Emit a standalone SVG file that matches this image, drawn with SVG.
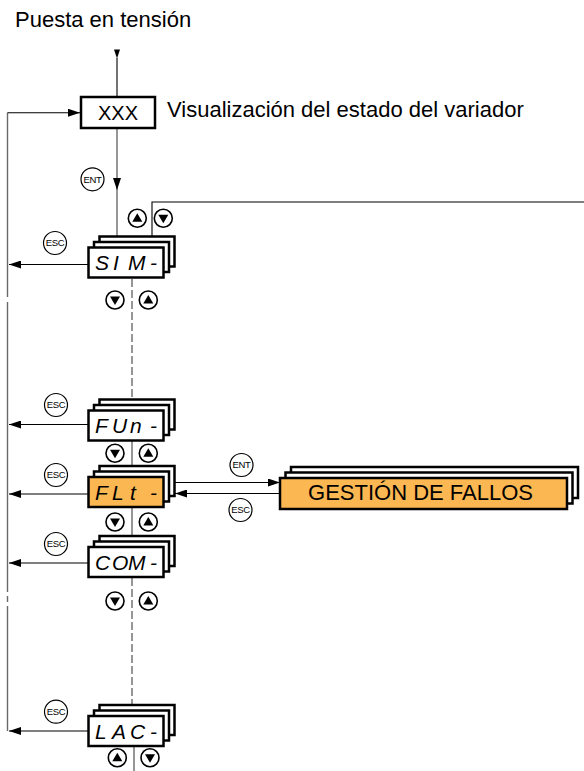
<svg xmlns="http://www.w3.org/2000/svg" width="584" height="771" viewBox="0 0 584 771">
<style>
.t{font-family:"Liberation Sans",Arial,sans-serif;fill:#000}
.lbl{font-size:22px}
.seg{font-family:"Liberation Sans",Arial,sans-serif;font-size:21px;font-style:italic;fill:#000}
.key{font-family:"Liberation Sans",Arial,sans-serif;font-size:9.5px;text-anchor:middle;fill:#000;letter-spacing:-0.3px}
.box{fill:#fff;stroke:#000;stroke-width:2.5}
.sel{fill:#FBB752;stroke:#000;stroke-width:2.5}
.kc{fill:#fff;stroke:#000;stroke-width:1.2}
.gl{fill:none;stroke:#6a6a6a;stroke-width:1.4}
.bl{fill:none;stroke:#000;stroke-width:1.1}
.dl{fill:none;stroke:#6a6a6a;stroke-width:1.4;stroke-dasharray:8 3}
</style>
<defs>
<marker id="ah" viewBox="0 0 12 8" refX="12" refY="4" markerWidth="12" markerHeight="8" markerUnits="userSpaceOnUse" orient="auto">
<path d="M0,0 L12,4 L0,8 z" fill="#000"/>
</marker>
<g id="up"><circle r="9" fill="#fff" stroke="#000" stroke-width="1.6"/><path d="M-5,3.5 L5,3.5 L0,-5 z" fill="#000"/></g>
<g id="dn"><circle r="9" fill="#fff" stroke="#000" stroke-width="1.6"/><path d="M-5,-3.5 L5,-3.5 L0,5 z" fill="#000"/></g>
</defs>

<text class="t lbl" x="15" y="27">Puesta en tensión</text>

<g id="connectors">
<path d="M114,49.5 L120,49.5 L117,58.5 z" fill="#000"/>
<path class="bl" d="M117,58 V97"/>
<path class="gl" d="M117,128 V190" marker-end="url(#ah)"/>
<path class="gl" d="M117,189 V236.5"/>
<path class="bl" d="M152,236.5 V202 H584"/>
<path class="gl" d="M7.5,112.7 V297 M7.5,302 V592 M7.5,596 V602 M7.5,606 V731"/>
<path class="bl" d="M7.5,112.7 H80" marker-end="url(#ah)"/>
<path class="bl" d="M88.5,264.5 H9" marker-end="url(#ah)"/>
<path class="bl" d="M88.5,424.5 H9" marker-end="url(#ah)"/>
<path class="bl" d="M88.5,494 H9" marker-end="url(#ah)"/>
<path class="bl" d="M88.5,563 H9" marker-end="url(#ah)"/>
<path class="bl" d="M88.5,731 H9" marker-end="url(#ah)"/>
<path class="dl" d="M132,279 V399.5"/>
<path class="gl" d="M132,441 V466"/>
<path class="gl" d="M132,508 V536"/>
<path class="dl" d="M132,578 V705"/>
<path class="gl" d="M134,747 V771"/>
<path class="bl" d="M175,482.5 H280" marker-end="url(#ah)"/>
<path class="bl" d="M280,493.5 H175" marker-end="url(#ah)"/>
</g>

<g id="xxx">
<rect class="box" x="81" y="97" width="74" height="31"/>
<text class="t" x="118" y="120" font-size="20" text-anchor="middle">XXX</text>
</g>
<text class="t lbl" x="167" y="117">Visualización del estado del variador</text>

<g id="keys">
<g><circle class="kc" cx="92.5" cy="179.3" r="11.5"/><text class="key" x="92.5" y="182.6">ENT</text></g>
<g><circle class="kc" cx="55" cy="243" r="11.5"/><text class="key" x="55" y="246.3">ESC</text></g>
<g><circle class="kc" cx="56" cy="405" r="11.5"/><text class="key" x="56" y="408.3">ESC</text></g>
<g><circle class="kc" cx="56" cy="475" r="11.5"/><text class="key" x="56" y="478.3">ESC</text></g>
<g><circle class="kc" cx="56" cy="544" r="11.5"/><text class="key" x="56" y="547.3">ESC</text></g>
<g><circle class="kc" cx="56" cy="711.7" r="11.5"/><text class="key" x="56" y="715">ESC</text></g>
<g><circle class="kc" cx="241.5" cy="465" r="11.5"/><text class="key" x="241.5" y="468.3">ENT</text></g>
<g><circle class="kc" cx="240.5" cy="510" r="11.5"/><text class="key" x="240.5" y="513.3">ESC</text></g>
<use href="#up" x="137.3" y="218.3"/><use href="#dn" x="163.3" y="218.3"/>
<use href="#dn" x="115" y="300"/><use href="#up" x="148.3" y="300"/>
<use href="#dn" x="115" y="453.3"/><use href="#up" x="148.3" y="453.3"/>
<use href="#dn" x="115" y="522"/><use href="#up" x="148.3" y="522"/>
<use href="#dn" x="115" y="601"/><use href="#up" x="148.3" y="601"/>
<use href="#up" x="117.3" y="757.7"/><use href="#dn" x="150" y="757.7"/>
</g>

<g id="sim">
<rect class="box" x="99.5" y="236.5" width="75" height="30"/>
<rect class="box" x="94" y="242" width="75" height="30"/>
<rect class="box" x="88.5" y="247.5" width="75" height="30"/>
<text class="seg" x="95 113 128 150" y="270">SIM-</text>
</g>

<g id="fun">
<rect class="box" x="99.5" y="399.5" width="75" height="30"/>
<rect class="box" x="94" y="405" width="75" height="30"/>
<rect class="box" x="88.5" y="410.5" width="75" height="30"/>
<text class="seg" x="95 112 130 150" y="433">FUn-</text>
</g>

<g id="flt">
<rect class="box" x="99.5" y="466" width="75" height="30"/>
<rect class="box" x="94" y="471.5" width="75" height="30"/>
<rect class="sel" x="88.5" y="477" width="75" height="30"/>
<text class="seg" x="95 112 130 150" y="499.5">FLt-</text>
</g>

<g id="com">
<rect class="box" x="99.5" y="536" width="75" height="30"/>
<rect class="box" x="94" y="541.5" width="75" height="30"/>
<rect class="box" x="88.5" y="547" width="75" height="30"/>
<text class="seg" x="95 112 128 150" y="569.5">COM-</text>
</g>

<g id="lac">
<rect class="box" x="99.5" y="705" width="75" height="30"/>
<rect class="box" x="94" y="710.5" width="75" height="30"/>
<rect class="box" x="88.5" y="716" width="75" height="30"/>
<text class="seg" x="95 112 130 150" y="738.5">LAC-</text>
</g>

<g id="gestion">
<rect class="box" x="291" y="467" width="287" height="31"/>
<rect class="box" x="285.5" y="472.5" width="287" height="31"/>
<rect class="sel" x="280" y="478" width="287" height="31"/>
<text class="t" x="420.5" y="500" font-size="22" text-anchor="middle">GESTIÓN DE FALLOS</text>
</g>
</svg>
